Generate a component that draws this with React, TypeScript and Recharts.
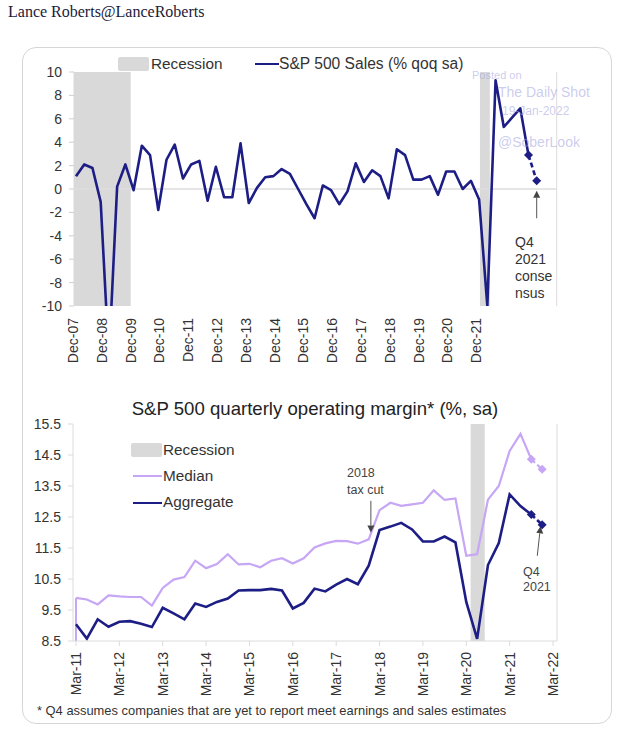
import { Line, LineChart, ReferenceArea, ReferenceLine, XAxis, YAxis } from 'recharts';

// top panel: S&P 500 sales, % qoq sa, quarterly Dec-07 .. Dec-21
const salesTickLabels = [
  'Dec-07', 'Dec-08', 'Dec-09', 'Dec-10', 'Dec-11', 'Dec-12', 'Dec-13', 'Dec-14',
  'Dec-15', 'Dec-16', 'Dec-17', 'Dec-18', 'Dec-19', 'Dec-20', 'Dec-21',
];
const salesGrowth = [
  1.1, 2.1, 1.8, -1.1, -14.5, 0.2, 2.1, -0.1, 3.7, 2.9, -1.8, 2.5, 3.8, 0.9, 2.1,
  2.4, -1.0, 1.9, -0.7, -0.7, 3.9, -1.2, 0.1, 1.0, 1.1, 1.7, 1.3, 0.0, -1.3, -2.5,
  0.3, -0.1, -1.3, -0.2, 2.2, 0.6, 1.6, 1.1, -0.8, 3.4, 2.9, 0.8, 0.8, 1.1, -0.5,
  1.5, 1.5, 0.0, 0.7, -0.9, -10.0, 9.3, 5.3, 6.1, 6.9, 2.9, 0.7,
];
const salesEstimateFrom = 55;
const salesRecessions = [[-0.3, 6.65], [49.1, 50.3]];
const salesYTicks = [-10, -8, -6, -4, -2, 0, 2, 4, 6, 8, 10];

// bottom panel: operating margin, quarterly Mar-11 .. Dec-21
const marginTickLabels = [
  'Mar-11', 'Mar-12', 'Mar-13', 'Mar-14', 'Mar-15', 'Mar-16',
  'Mar-17', 'Mar-18', 'Mar-19', 'Mar-20', 'Mar-21', 'Mar-22',
];
const medianMargin = [
  9.89, 9.84, 9.68, 9.97, 9.94, 9.92, 9.92, 9.64, 10.21, 10.48, 10.56, 11.09,
  10.85, 10.98, 11.3, 10.97, 10.99, 10.88, 11.09, 11.17, 11.0, 11.17, 11.52,
  11.65, 11.73, 11.72, 11.64, 11.78, 12.72, 12.96, 12.86, 12.91, 12.96, 13.36,
  13.05, 13.1, 11.25, 11.3, 13.06, 13.5, 14.63, 15.18, 14.36, 14.04,
];
const aggregateMargin = [
  9.04, 8.58, 9.2, 8.96, 9.12, 9.14, 9.06, 8.95, 9.57, 9.39, 9.2, 9.71, 9.6,
  9.76, 9.87, 10.13, 10.14, 10.14, 10.18, 10.13, 9.55, 9.73, 10.19, 10.1, 10.32,
  10.5, 10.33, 10.93, 12.08, 12.19, 12.31, 12.1, 11.71, 11.71, 11.87, 11.68,
  9.76, 8.57, 10.95, 11.66, 13.23, 12.85, 12.58, 12.25,
];
const marginEstimateFrom = 42;
const marginRecession = [36.4, 37.7];
const marginYTicks = [8.5, 9.5, 10.5, 11.5, 12.5, 13.5, 14.5, 15.5];

const NAVY = '#1d1d86';
const LILAC = '#c6a6f5';
const SHADE = '#d9d9d9';
const AXIS = '#dcdcdc';
const INK = '#333';

const salesData = salesGrowth.map((v, i) => ({
  q: i,
  actual: i <= salesEstimateFrom ? v : null,
  est: i >= salesEstimateFrom ? v : null,
}));

const marginData = medianMargin.map((m, i) => ({
  q: i,
  median: i <= marginEstimateFrom ? m : null,
  medianEst: i >= marginEstimateFrom ? m : null,
  aggregate: i <= marginEstimateFrom ? aggregateMargin[i] : null,
  aggregateEst: i >= marginEstimateFrom ? aggregateMargin[i] : null,
}));

const salesTickSlots = salesTickLabels.map((_, i) => i * 3.5);
const marginTickSlots = marginTickLabels.map((_, i) => i * 4);

function RotatedTick({ x, y, text, dx = 0 }) {
  return (
    <text
      transform={`translate(${x + dx},${y}) rotate(-90)`}
      textAnchor="end"
      dominantBaseline="central"
      fontSize={14}
      fill={INK}
    >
      {text}
    </text>
  );
}

function diamondDot(color) {
  return (props) => {
    const { cx, cy, index, value } = props;
    if (cx == null || cy == null || value == null) return <g key={`dd-${index}`} />;
    const r = 4.5;
    return (
      <polygon
        key={`dd-${index}`}
        points={`${cx},${cy - r} ${cx + r},${cy} ${cx},${cy + r} ${cx - r},${cy}`}
        fill={color}
      />
    );
  };
}

function Arrow(props) {
  const { x1, y1, x2, y2 } = props;
  const len = Math.hypot(x2 - x1, y2 - y1) || 1;
  const ux = (x2 - x1) / len;
  const uy = (y2 - y1) / len;
  const bx = x2 - ux * 7;
  const by = y2 - uy * 7;
  return (
    <g>
      <line x1={x1} y1={y1} x2={bx} y2={by} stroke="#555" strokeWidth={1} />
      <polygon
        points={`${x2},${y2} ${bx - uy * 3.5},${by + ux * 3.5} ${bx + uy * 3.5},${by - ux * 3.5}`}
        fill="#444"
      />
    </g>
  );
}

const abs = (left, top, extra = {}) => ({ position: 'absolute', left, top, ...extra });

export default function App() {
  return (
    <div
      style={{
        position: 'absolute',
        left: 0,
        top: 0,
        width: 623,
        height: 735,
        background: '#fff',
        fontFamily: '"Liberation Sans", Arial, sans-serif',
        color: INK,
      }}
    >
      <div style={abs(8, 3, { fontFamily: '"Liberation Serif", serif', fontSize: 16, lineHeight: '18px', color: '#1a1a3a' })}>
        Lance Roberts@LanceRoberts
      </div>

      <div
        style={abs(22, 47, {
          width: 590,
          height: 677,
          border: '1px solid #d6d6d6',
          borderRadius: 14,
          boxSizing: 'border-box',
        })}
      />

      {/* top chart */}
      <div style={abs(0, 50)}>
        <LineChart width={623} height={326} data={salesData} margin={{ top: 22, right: 0, bottom: 0, left: 0 }}>
          <XAxis
            dataKey="q"
            type="number"
            domain={[0, 56]}
            ticks={salesTickSlots}
            interval={0}
            padding={{ left: 2, right: 20 }}
            height={70}
            axisLine={false}
            tickLine={false}
            tickSize={6}
            tickMargin={6}
            tick={(p) => (
              <RotatedTick x={p.x} y={p.y} dx={-3} text={salesTickLabels[Math.round(p.payload.value / 3.5)]} />
            )}
          />
          <YAxis
            domain={[-10, 10]}
            ticks={salesYTicks}
            interval={0}
            allowDataOverflow
            width={74}
            axisLine={false}
            tickLine={{ stroke: '#cfcfcf' }}
            tickSize={5}
            tickMargin={7}
            tick={{ fontSize: 14, fill: INK }}
          />
          <YAxis
            yAxisId="r"
            orientation="right"
            domain={[-10, 10]}
            ticks={salesYTicks}
            interval={0}
            width={66.3}
            axisLine={{ stroke: AXIS }}
            tickLine={{ stroke: '#cfcfcf' }}
            tickSize={5}
            tickMargin={6}
            tick={{ fontSize: 14, fill: INK, textAnchor: 'start' }}
          />
          {salesRecessions.map(([a, b]) => (
            <ReferenceArea key={a} x1={a} x2={b} fill={SHADE} fillOpacity={1} stroke="none" ifOverflow="visible" />
          ))}
          <ReferenceLine y={0} stroke={AXIS} strokeWidth={1.5} />
          <Line
            dataKey="actual"
            stroke={NAVY}
            strokeWidth={2.6}
            dot={false}
            isAnimationActive={false}
            strokeLinejoin="round"
          />
          <Line
            dataKey="est"
            stroke={NAVY}
            strokeWidth={2.6}
            strokeDasharray="5 3"
            dot={diamondDot(NAVY)}
            isAnimationActive={false}
          />
          <ReferenceLine
            segment={[{ x: 56, y: -2.5 }, { x: 56, y: -0.15 }]}
            shape={(p) => <Arrow {...p} />}
            ifOverflow="visible"
          />
        </LineChart>
      </div>

      {/* top legend */}
      <div style={abs(118, 57, { width: 31, height: 14, background: SHADE, borderRadius: 2 })} />
      <div style={abs(151, 55, { fontSize: 15.3, lineHeight: '18px' })}>Recession</div>
      <div style={abs(255, 62.5, { width: 24, height: 2.6, background: NAVY })} />
      <div style={abs(279, 55, { fontSize: 15.6, lineHeight: '18px' })}>S&amp;P 500 Sales (% qoq sa)</div>

      {/* top annotation */}
      <div style={abs(515, 233.5, { fontSize: 14, lineHeight: '17px' })}>
        Q4
        <br />
        2021
        <br />
        conse
        <br />
        nsus
      </div>

      {/* bottom chart */}
      <div style={abs(0, 398, { width: 630, textAlign: 'center', fontSize: 18.6, lineHeight: '22px', color: '#222' })}>
        S&amp;P 500 quarterly operating margin* (%, sa)
      </div>
      <div style={abs(0, 414)}>
        <LineChart width={623} height={287} data={marginData} margin={{ top: 10, right: 0, bottom: 0, left: 0 }}>
          <XAxis
            dataKey="q"
            type="number"
            domain={[0, 44]}
            ticks={marginTickSlots}
            interval={0}
            padding={{ left: 3, right: 4 }}
            height={60}
            axisLine={{ stroke: AXIS }}
            tickLine={{ stroke: AXIS }}
            tickSize={5}
            tickMargin={6}
            tick={(p) => <RotatedTick x={p.x} y={p.y} text={marginTickLabels[Math.round(p.payload.value / 4)]} />}
          />
          <YAxis
            domain={[8.5, 15.5]}
            ticks={marginYTicks}
            interval={0}
            width={73}
            axisLine={{ stroke: AXIS }}
            tickLine={{ stroke: AXIS }}
            tickSize={5}
            tickMargin={7}
            tick={{ fontSize: 14, fill: INK }}
          />
          <YAxis
            yAxisId="r"
            orientation="right"
            domain={[8.5, 15.5]}
            ticks={marginYTicks}
            interval={0}
            width={66}
            axisLine={{ stroke: AXIS }}
            tickLine={{ stroke: AXIS }}
            tickSize={5}
            tickMargin={3}
            tick={{ fontSize: 14, fill: INK, textAnchor: 'start' }}
          />
          <ReferenceArea
            x1={marginRecession[0]}
            x2={marginRecession[1]}
            fill={SHADE}
            fillOpacity={1}
            stroke="none"
          />
          <ReferenceLine
            segment={[{ x: 0, y: 8.5 }, { x: 0, y: medianMargin[0] }]}
            stroke={LILAC}
            strokeWidth={2}
          />
          <Line dataKey="median" stroke={LILAC} strokeWidth={2.2} dot={false} isAnimationActive={false} />
          <Line
            dataKey="medianEst"
            stroke={LILAC}
            strokeWidth={2.2}
            strokeDasharray="5 3"
            dot={diamondDot(LILAC)}
            isAnimationActive={false}
          />
          <Line dataKey="aggregate" stroke={NAVY} strokeWidth={2.6} dot={false} isAnimationActive={false} />
          <Line
            dataKey="aggregateEst"
            stroke={NAVY}
            strokeWidth={2.6}
            strokeDasharray="5 3"
            dot={diamondDot(NAVY)}
            isAnimationActive={false}
          />
          <ReferenceLine
            segment={[{ x: 27.2, y: 13.02 }, { x: 27.2, y: 12.0 }]}
            shape={(p) => <Arrow {...p} />}
          />
          <ReferenceLine
            segment={[{ x: 42.55, y: 11.25 }, { x: 42.85, y: 12.2 }]}
            shape={(p) => <Arrow {...p} />}
          />
        </LineChart>
      </div>

      {/* bottom legend */}
      <div style={abs(131, 443, { width: 31, height: 14, background: SHADE, borderRadius: 2 })} />
      <div style={abs(163, 441, { fontSize: 15.3, lineHeight: '18px' })}>Recession</div>
      <div style={abs(133, 475, { width: 29, height: 2, background: LILAC })} />
      <div style={abs(163, 467, { fontSize: 15.3, lineHeight: '18px' })}>Median</div>
      <div style={abs(133, 501.5, { width: 29, height: 2.6, background: NAVY })} />
      <div style={abs(163, 493, { fontSize: 15.3, lineHeight: '18px' })}>Aggregate</div>

      {/* bottom annotations */}
      <div style={abs(347, 464.5, { fontSize: 12.5, lineHeight: '17px', color: '#444' })}>
        2018
        <br />
        tax cut
      </div>
      <div style={abs(523, 564.5, { fontSize: 12.5, lineHeight: '15px', color: '#444' })}>
        Q4
        <br />
        2021
      </div>

      <div style={abs(37, 703, { fontSize: 12.9, lineHeight: '16px' })}>
        * Q4 assumes companies that are yet to report meet earnings and sales estimates
      </div>

      {/* watermark */}
      <div style={{ color: 'rgba(160,160,222,0.55)', pointerEvents: 'none' }}>
        <div style={abs(472, 68, { fontSize: 11, lineHeight: '14px' })}>Posted on</div>
        <div style={abs(498, 84, { fontSize: 14, lineHeight: '17px' })}>The Daily Shot</div>
        <div style={abs(502, 103, { fontSize: 12, lineHeight: '16px' })}>19-Jan-2022</div>
        <div style={abs(498, 134, { fontSize: 14, lineHeight: '17px' })}>@SoberLook</div>
      </div>
    </div>
  );
}
